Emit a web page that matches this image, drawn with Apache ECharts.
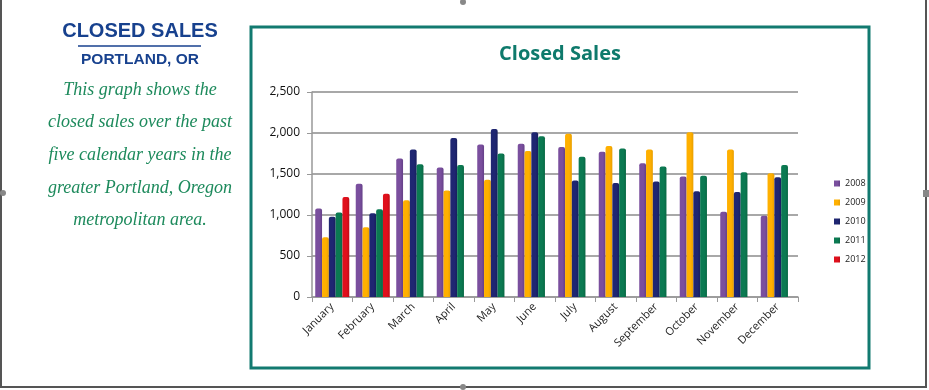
<!DOCTYPE html>
<html><head><meta charset="utf-8">
<script src="https://cdn.jsdelivr.net/npm/echarts@6/dist/echarts.min.js"></script>
<style>html,body{margin:0;padding:0;background:#fff}#c{width:929px;height:390px}</style>
</head><body><div id="c"></div>
<script>
var months = ['January','February','March','April','May','June','July','August','September','October','November','December'];
var years = ['2008','2009','2010','2011','2012'];
var s2008 = [1080,1380,1690,1580,1860,1870,1830,1770,1630,1470,1040,990];
var s2009 = [730,850,1180,1300,1430,1780,1990,1840,1800,2010,1800,1510];
var s2010 = [980,1020,1800,1940,2050,2010,1420,1390,1410,1290,1280,1460];
var s2011 = [1030,1070,1620,1610,1750,1960,1710,1810,1590,1480,1520,1610];
var s2012 = [1220,1260,null,null,null,null,null,null,null,null,null,null];
var yTicks = [0,500,1000,1500,2000,2500];
var sideLines = ['This graph shows the','closed sales over the past','five calendar years in the','greater Portland, Oregon','metropolitan area.'];

var colors = ['#7a4f9e','#ffb000','#1f2672','#0b7a52','#e0101c'];
var dark = ['#654088','#e89f00','#181e5e','#096844','#c00c17'];
var data = [s2008,s2009,s2010,s2011,s2012];

function grad(i){
  return new echarts.graphic.LinearGradient(0,0,1,0,[
    {offset:0,color:colors[i]},{offset:0.6,color:colors[i]},{offset:1,color:dark[i]}]);
}

var series = years.map(function(y,i){
  return {name:y,type:'bar',data:data[i],barGap:'0%',barCategoryGap:'16%',
    itemStyle:{color:grad(i),borderRadius:[2,2,0,0]}};
});

var graphics = [
  {type:'rect',shape:{x:1,y:-5,width:925,height:392},style:{fill:'none',stroke:'#555',lineWidth:2},silent:true},
  {type:'rect',shape:{x:251,y:27,width:618,height:341},style:{fill:'none',stroke:'#127a70',lineWidth:3}},
  {type:'text',style:{text:'Closed Sales',x:560,y:54,align:'center',verticalAlign:'middle',font:'bold 20px "Open Sans", sans-serif',fill:'#0e7a6c'}},
  {type:'text',style:{text:'CLOSED SALES',x:140,y:31,align:'center',verticalAlign:'middle',font:'bold 20px "Liberation Sans", Arial, sans-serif',fill:'#17418e'}},
  {type:'line',shape:{x1:78,y1:46,x2:201,y2:46},style:{stroke:'#17418e',lineWidth:1.5}},
  {type:'text',style:{text:'PORTLAND, OR',x:140,y:60,align:'center',verticalAlign:'middle',font:'bold 15.5px "Liberation Sans", Arial, sans-serif',fill:'#17418e'}},
  {type:'circle',shape:{cx:463,cy:2,r:3},style:{fill:'#888'}},
  {type:'circle',shape:{cx:463,cy:387,r:3},style:{fill:'#888'}},
  {type:'circle',shape:{cx:3,cy:193,r:3},style:{fill:'#888'}},
  {type:'rect',shape:{x:923,y:190,width:6,height:7},style:{fill:'#888'}}
];
sideLines.forEach(function(t,k){
  graphics.push({type:'text',style:{text:t,x:140,y:90+k*32.6,align:'center',verticalAlign:'middle',
    font:'italic 18px "Liberation Serif", serif',fill:'#1d8a5c'}});
});

var chart = echarts.init(document.getElementById('c'));
chart.setOption({
  animation:false,
  color:colors,
  grid:{left:312,right:131,top:92,bottom:93},
  legend:{orient:'vertical',left:829,top:174,itemWidth:6,itemHeight:6,itemGap:10,icon:'rect',
    textStyle:{fontSize:9,color:'#222',fontFamily:'"Open Sans", sans-serif'},data:years},
  xAxis:{type:'category',data:months,
    axisLine:{lineStyle:{color:'#999',width:1.5}},axisTick:{show:true,lineStyle:{color:'#999'}},
    axisLabel:{rotate:45,fontSize:11,color:'#222',margin:8,fontFamily:'"Open Sans", sans-serif',interval:0}},
  yAxis:{type:'value',min:0,max:2500,interval:500,
    axisLine:{show:true,lineStyle:{color:'#999',width:1.5}},axisTick:{show:true,lineStyle:{color:'#999'}},
    splitLine:{lineStyle:{color:'#a8a8a8',width:2}},
    axisLabel:{fontSize:12,color:'#111',margin:12,fontFamily:'"Open Sans", sans-serif',
      formatter:function(v){return yTicks.indexOf(v)>=0 ? v.toLocaleString('en-US') : '';}}},
  series:series,
  graphic:graphics
});
</script></body></html>
